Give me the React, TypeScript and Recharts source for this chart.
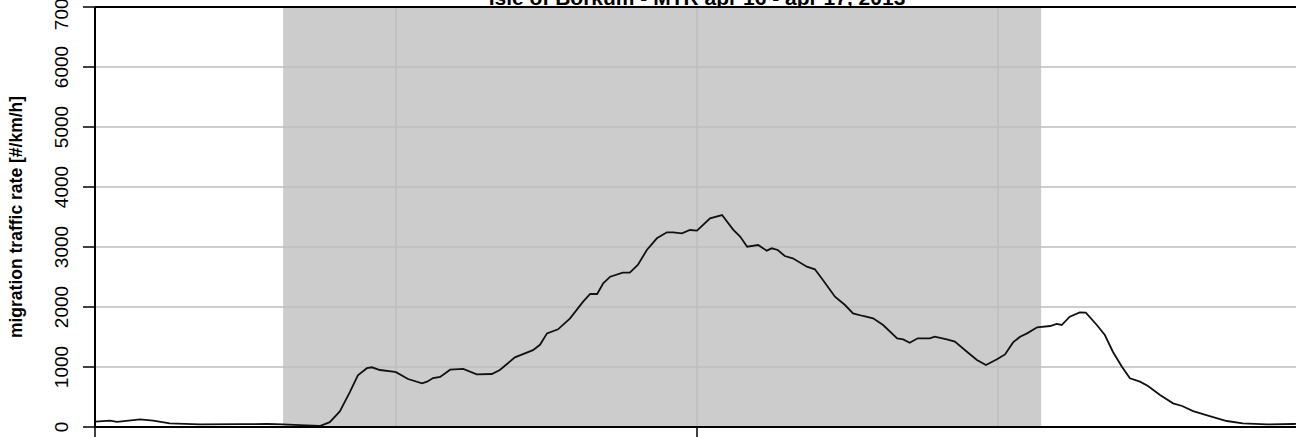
import React from 'react';
import {
  LineChart,
  Line,
  XAxis,
  YAxis,
  ReferenceArea,
  ReferenceLine
} from 'recharts';

// time in hours since apr 16 00:00
const hours = [
  12.0, 12.3, 12.44, 12.9, 13.16, 13.49, 14.09, 14.89, 15.43, 15.75, 16.09, 16.48, 16.68, 16.88,
  17.08, 17.24, 17.42, 17.52, 17.68, 17.94, 18.0, 18.24, 18.52, 18.62, 18.74, 18.88, 19.08, 19.34,
  19.61, 19.91, 20.07, 20.37, 20.73, 20.87, 21.01, 21.23, 21.47, 21.73, 21.87, 22.01, 22.13, 22.27,
  22.52, 22.66, 22.82, 23.0, 23.2, 23.4, 23.52, 23.7, 23.86, 24.0, 24.26, 24.5, 24.72, 24.86,
  25.0, 25.22, 25.39, 25.49, 25.61, 25.75, 25.91, 26.19, 26.35, 26.51, 26.75, 26.95, 27.11, 27.31,
  27.51, 27.71, 27.99, 28.11, 28.24, 28.4, 28.64, 28.74, 28.98, 29.14, 29.38, 29.58, 29.76, 29.98,
  30.14, 30.3, 30.44, 30.58, 30.78, 31.04, 31.17, 31.27, 31.43, 31.63, 31.75, 31.97, 32.13, 32.29,
  32.47, 32.63, 32.83, 32.99, 33.23, 33.49, 33.67, 33.89, 34.22, 34.56, 34.88, 35.36, 35.88, 36.0
];

const mtr = [
  90, 105, 85, 128, 105, 61, 44, 48, 50, 44, 30, 17, 80, 260,
  580, 860, 980, 995, 950, 922, 915, 800, 728, 755, 815, 835, 955, 970,
  878, 883, 950, 1160, 1280, 1370, 1560, 1628, 1811, 2089, 2217, 2217, 2394, 2505,
  2572, 2572, 2700, 2950, 3145, 3245, 3245, 3228, 3283, 3272, 3478, 3533, 3290, 3175,
  3005, 3033, 2939, 2978, 2950, 2850, 2811, 2672, 2628, 2450, 2172, 2033, 1894, 1850,
  1811, 1700, 1478, 1461, 1405, 1478, 1478, 1505, 1461, 1422, 1255, 1117, 1033, 1128,
  1210, 1410, 1505, 1561, 1661, 1683, 1717, 1700, 1839, 1911, 1906, 1700, 1533, 1255,
  1005, 811, 755, 683, 533, 394, 350, 266, 183, 100, 61, 44, 50, 52
];

const yTicks = [0, 1000, 2000, 3000, 4000, 5000, 6000, 7000];
const gridValues = [1000, 2000, 3000, 4000, 5000, 6000];
const xTicks = [12, 24, 36];
const gridHours = [18, 24, 30];
const nightStart = 15.75;
const nightEnd = 30.86;

const title = 'Isle of Borkum - MTR apr 16 - apr 17, 2013';
const yLabel = 'migration traffic rate [#/km/h]';

const FONT = '"Liberation Sans", Arial, sans-serif';
const GRID = '#bebebe';

const data = hours.map((h, i) => ({ h, mtr: mtr[i] }));

const YTick = (props: any) => {
  const { y, payload } = props;
  return (
    <text
      x={68}
      y={y}
      transform={`rotate(-90 68 ${y})`}
      textAnchor="middle"
      fontSize={19}
      fontFamily={FONT}
      fill="#000"
    >
      {payload.value}
    </text>
  );
};

export default function App() {
  return (
    <div
      style={{
        position: 'absolute',
        left: 0,
        top: 0,
        width: 1296,
        height: 437,
        overflow: 'hidden',
        background: '#fff'
      }}
    >
      <LineChart
        width={1310}
        height={470}
        data={data}
        margin={{ top: 7, right: 11, bottom: 0, left: 0 }}
      >
        <XAxis
          dataKey="h"
          type="number"
          domain={[12, 36]}
          ticks={xTicks}
          tickSize={12}
          height={43}
          tickFormatter={() => ''}
          axisLine={{ stroke: '#000', strokeWidth: 2 }}
          tickLine={{ stroke: '#000', strokeWidth: 1.5 }}
          allowDataOverflow
        />
        <YAxis
          type="number"
          domain={[0, 7000]}
          ticks={yTicks}
          width={95}
          tickSize={12}
          tick={<YTick />}
          axisLine={{ stroke: '#000', strokeWidth: 2 }}
          tickLine={{ stroke: '#000', strokeWidth: 1.5 }}
          allowDataOverflow
        />
        <ReferenceArea
          x1={nightStart}
          x2={nightEnd}
          y1={0}
          y2={7000}
          fill="#cccccc"
          fillOpacity={1}
          stroke="none"
        />
        {gridValues.map((v) => (
          <ReferenceLine key={`gy-${v}`} y={v} stroke={GRID} strokeWidth={1.5} />
        ))}
        {gridHours.map((h) => (
          <ReferenceLine key={`gx-${h}`} x={h} stroke={GRID} strokeWidth={1.5} />
        ))}
        <ReferenceLine y={7000} stroke="#000" strokeWidth={2} />
        <Line
          type="linear"
          dataKey="mtr"
          stroke="#111"
          strokeWidth={1.8}
          dot={false}
          isAnimationActive={false}
        />
        <text
          x={697}
          y={5}
          textAnchor="middle"
          fontSize={21}
          fontWeight="bold"
          fontFamily={FONT}
          fill="#000"
        >
          {title}
        </text>
        <text
          x={22}
          y={217}
          transform="rotate(-90 22 217)"
          textAnchor="middle"
          fontSize={17.5}
          fontWeight="bold"
          fontFamily={FONT}
          fill="#000"
        >
          {yLabel}
        </text>
      </LineChart>
    </div>
  );
}
